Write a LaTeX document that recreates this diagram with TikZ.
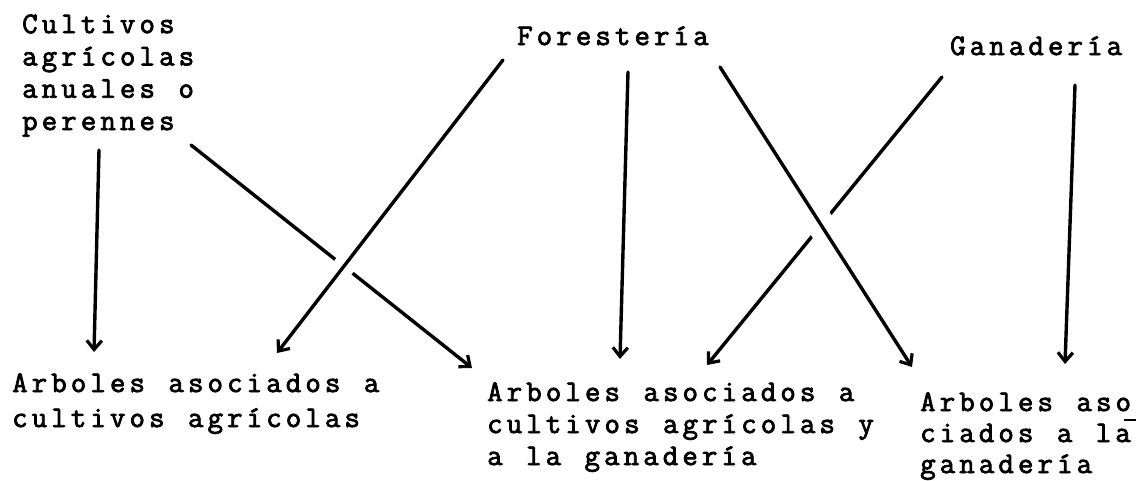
\documentclass[tikz,border=0pt]{standalone}
\usepackage{fontspec}
\newfontfamily\tw[LetterSpace=13.7,WordSpace=1.2,FakeBold=2.6]{Latin Modern Mono}
\usetikzlibrary{arrows.meta}
\begin{document}
\begin{tikzpicture}[x=1pt,y=-1pt,
  lbl/.style={inner sep=0pt, anchor=base west, align=left},
  fA/.style={font=\tw\fontsize{30}{32.3}\selectfont},
  fB/.style={font=\tw\fontsize{30}{35}\selectfont},
  fC/.style={font=\tw\fontsize{30}{32}\selectfont},
  fD/.style={font=\tw\fontsize{30}{31}\selectfont},
  arr/.style={line width=3.4pt, line cap=round,
    -{Straight Barb[length=9pt,width=15pt,line width=3.2pt]}},
  gap/.style={preaction={draw=white, line width=#1, -}},
]
\fill[white] (0,0) rectangle (1146,480);
\useasboundingbox (0,0) rectangle (1146,480);

% source texts (anchored at the baseline of their last line)
\node[lbl,fA] (cult) at (22,130) {Cultivos\\agrícolas\\anuales o\\perennes};
\node[lbl,fA] (fore) at (517,45) {Forestería};
\node[lbl,fA] (gana) at (950,55) {Ganadería};

% target texts
\node[lbl,fB] (tcult) at (12,427) {Arboles asociados a\\cultivos agrícolas};
\node[lbl,fC] (tboth) at (487,465) {Arboles asociados a\\cultivos agrícolas y\\a la ganadería};
\node[lbl,fD] (tgana) at (920,473) {Arboles aso\\ciados a la\\ganadería};
\draw[line width=1.8pt] (1124,420) -- (1136,420);

% connector ends
\coordinate (c1s) at (99,150);  \coordinate (c1e) at (94,352);
\coordinate (c2s) at (191,145); \coordinate (c2e) at (472,368);
\coordinate (f1s) at (503,60);  \coordinate (f1e) at (277,353);
\coordinate (f2s) at (628,72);  \coordinate (f2e) at (620,359);
\coordinate (f3s) at (720,67);  \coordinate (f3e) at (912,367);
\coordinate (g1s) at (942,77);  \coordinate (g1e) at (707,365);
\coordinate (g2s) at (1075,85); \coordinate (g2e) at (1065,364);

% connectors (crossing ones drawn last cut a gap)
\draw[arr] (c1s) -- (c1e);
\draw[arr] (c2s) -- (c2e);
\draw[arr] (g1s) -- (g1e);
\draw[arr,gap=22pt] (f1s) -- (f1e);
\draw[arr] (f2s) -- (f2e);
\draw[arr,gap=28pt] (f3s) -- (f3e);
\draw[arr] (g2s) -- (g2e);
\end{tikzpicture}
\end{document}
